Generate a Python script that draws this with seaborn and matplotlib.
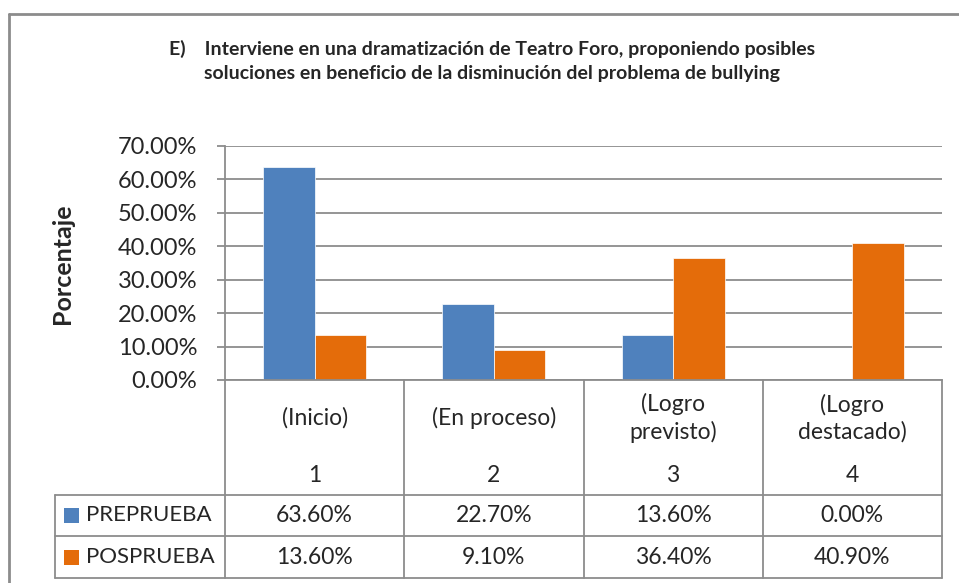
import matplotlib
matplotlib.use("Agg")
import pandas as pd
import seaborn as sns
import matplotlib.pyplot as plt
from matplotlib.patches import Rectangle
from matplotlib.lines import Line2D
from matplotlib.transforms import blended_transform_factory

# data
categories = ["(Inicio)", "(En proceso)", "(Logro\nprevisto)", "(Logro\ndestacado)"]
levels = ["1", "2", "3", "4"]
series = ["PREPRUEBA", "POSPRUEBA"]
preprueba = [63.6, 22.7, 13.6, 0.0]
posprueba = [13.6, 9.1, 36.4, 40.9]
colors = ["#4F81BD", "#E46C0A"]
yticks = [0, 10, 20, 30, 40, 50, 60, 70]
title = ("E)    Interviene en una dramatización de Teatro Foro, proponiendo posibles\n"
         "soluciones en beneficio de la disminución del problema de bullying")

df = pd.DataFrame({
    "nivel": levels * 2,
    "serie": [series[0]] * len(levels) + [series[1]] * len(levels),
    "valor": preprueba + posprueba,
})

sns.set_style("white")
plt.rcParams["font.family"] = ["Lato", "DejaVu Sans"]
gray = "#8C8C8C"

W, H = 959, 583
fig = plt.figure(figsize=(W / 100, H / 100), dpi=100)
ax = fig.add_axes([225 / W, 1 - 380 / H, 717 / W, 234 / H])

sns.barplot(data=df, x="nivel", y="valor", hue="serie", palette=colors,
            width=0.575, gap=0, saturation=1, legend=False, ax=ax,
            edgecolor="white", linewidth=0.5)

ax.set_xlim(-0.5, 3.5)
ax.set_ylim(0, 70)
ax.set_yticks(yticks)
ax.set_yticklabels([f"{v:.2f}%" for v in yticks])
ax.set_xticks([])
ax.set_xlabel("")
ax.set_ylabel("")
ax.yaxis.grid(True, color=gray, lw=1.3)
ax.set_axisbelow(True)
ax.tick_params(axis="y", length=6, width=1.3, color=gray, labelsize=17,
               pad=14, left=True)
for s in ["left", "bottom", "top"]:
    ax.spines[s].set_color(gray)
    ax.spines[s].set_linewidth(1.3)
ax.spines["top"].set_visible(False)
ax.spines["right"].set_visible(False)

# data table under the axis
tr = blended_transform_factory(ax.transData, ax.transAxes)
head_b, row1_b, row2_b = -115 / 234, -156 / 234, -198 / 234
leg_left = -0.5 - 170 / 179.25
lkw = dict(color=gray, lw=1.3, transform=tr, clip_on=False)

for i in range(len(levels) + 1):
    ax.plot([i - 0.5, i - 0.5], [0, row2_b], **lkw)
ax.plot([leg_left, leg_left], [head_b, row2_b], **lkw)
for yb in [head_b, row1_b, row2_b]:
    ax.plot([leg_left, 3.5], [yb, yb], **lkw)

for i, (cat, lev) in enumerate(zip(categories, levels)):
    ax.text(i, -38 / 234, cat, ha="center", va="center", fontsize=16.5,
            transform=tr, linespacing=1.3)
    ax.text(i, -95 / 234, lev, ha="center", va="center", fontsize=16.5,
            transform=tr)

row_centers = [-135 / 234, -177 / 234]
for name, vals, col, yc in zip(series, [preprueba, posprueba], colors, row_centers):
    sq = 15 / 179.25
    ax.add_patch(Rectangle((-0.5 - 161 / 179.25, yc - 7.5 / 234), sq, 15 / 234,
                           facecolor=col, edgecolor="none", transform=tr,
                           clip_on=False))
    ax.text(-0.5 - 139 / 179.25, yc, name, ha="left", va="center",
            fontsize=16, transform=tr)
    for i, v in enumerate(vals):
        ax.text(i, yc, f"{v:.2f}%", ha="center", va="center", fontsize=16.5,
                transform=tr)

# title and y label
fig.text(492 / W, 1 - 61 / H, title, ha="center", va="center",
         fontsize=14, fontweight="bold", linespacing=1.5)
fig.text(62 / W, 1 - 264 / H, "Porcentaje", ha="center", va="center",
         rotation=90, fontsize=18, fontweight="bold")

# outer chart frame
fig.add_artist(Line2D([9 / W, 9 / W], [0, 1 - 14 / H], color=gray, lw=2))
fig.add_artist(Line2D([9 / W, 1], [1 - 14 / H, 1 - 14 / H], color=gray, lw=2))

fig.savefig("out.png", dpi=100)
